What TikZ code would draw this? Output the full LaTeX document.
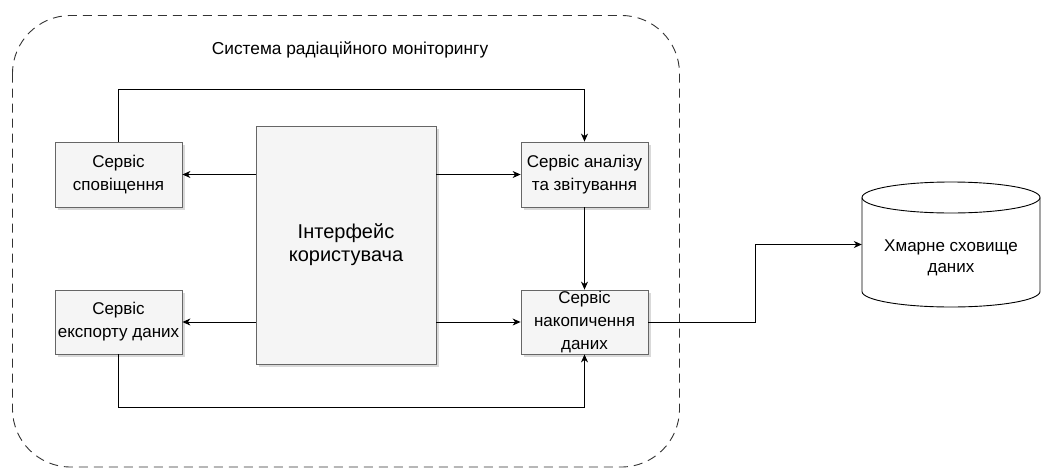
\documentclass[tikz,border=0pt]{standalone}
\usepackage{fontspec}
\setmainfont{Liberation Sans}
\usetikzlibrary{arrows.meta,shadows}
\tikzset{
  svc/.style={draw=black!60, fill=black!4, line width=0.8pt, minimum width=127pt, minimum height=65pt,
    inner sep=0pt, align=center, font=\fontsize{17}{23}\selectfont,
    drop shadow={shadow xshift=2.5pt, shadow yshift=-2.5pt, fill=black!25, opacity=0.6}},
  conn/.style={draw=black, line width=1pt},
  arr/.style={conn, -{Stealth[length=8pt,width=7pt,inset=2.5pt]}},
  frame/.style={draw=black!80, line width=0.9pt, dash pattern=on 9pt off 6pt, rounded corners=58pt},
}
\begin{document}
\begin{tikzpicture}[x=1pt,y=-1pt]
\useasboundingbox (0,0) rectangle (1041,471);
\draw[frame] (12.5,15.5) rectangle (679.5,467);
\node[font=\fontsize{17.3}{21}\selectfont] (title) at (350,50) {Система радіаційного моніторингу};

\node[svc] (n1) at (118.5,174.5) {Сервіс\\сповіщення};
\node[svc] (n2) at (584.5,174.5) {Сервіс аналізу\\та звітування};
\node[svc, minimum height=64pt] (n3) at (118.5,322) {Сервіс\\експорту даних};
\node[svc, minimum height=64pt] (n4) at (584.5,322) {Сервіс\\накопичення\\даних};
\node[svc, minimum width=180pt, minimum height=238pt, font=\fontsize{20}{23}\selectfont] (ui) at (346,245) {Інтерфейс\\користувача};

% cylinder (y axis points down)
\draw[line width=0.9pt, fill=white]
  (862,197.5) -- (862,291.5) arc[start angle=180, end angle=0, x radius=89, y radius=15.5]
  -- (1040,197.5) arc[start angle=360, end angle=180, x radius=89, y radius=15.5] -- cycle;
\draw[line width=0.9pt] (862,197.5) arc[start angle=180, end angle=0, x radius=89, y radius=15.5];
\node[align=center, minimum width=178pt, minimum height=125pt, inner sep=0pt,
      font=\fontsize{17}{21}\selectfont] (cloud) at (951,258) {Хмарне сховище\\даних};

\coordinate (top) at (0,89.5);
\coordinate (bot) at (0,407);
\coordinate (mid) at (755,280);

\draw[arr] (ui.west |- n1.east) -- (n1.east);
\draw[arr] (ui.east |- n2.west) -- (n2.west);
\draw[arr] (ui.west |- n3.east) -- (n3.east);
\draw[arr] (ui.east |- n4.west) -- (n4.west);
\draw[arr] (n1.north) -- (n1.north |- top) -| (n2.north);
\draw[arr] (n2.south) -- (n4.north);
\draw[arr] (n3.south) -- (n3.south |- bot) -| (n4.south);
\draw[arr] (n4.east) -| (mid) |- (cloud.west |- 0,244.5);
\end{tikzpicture}
\end{document}
